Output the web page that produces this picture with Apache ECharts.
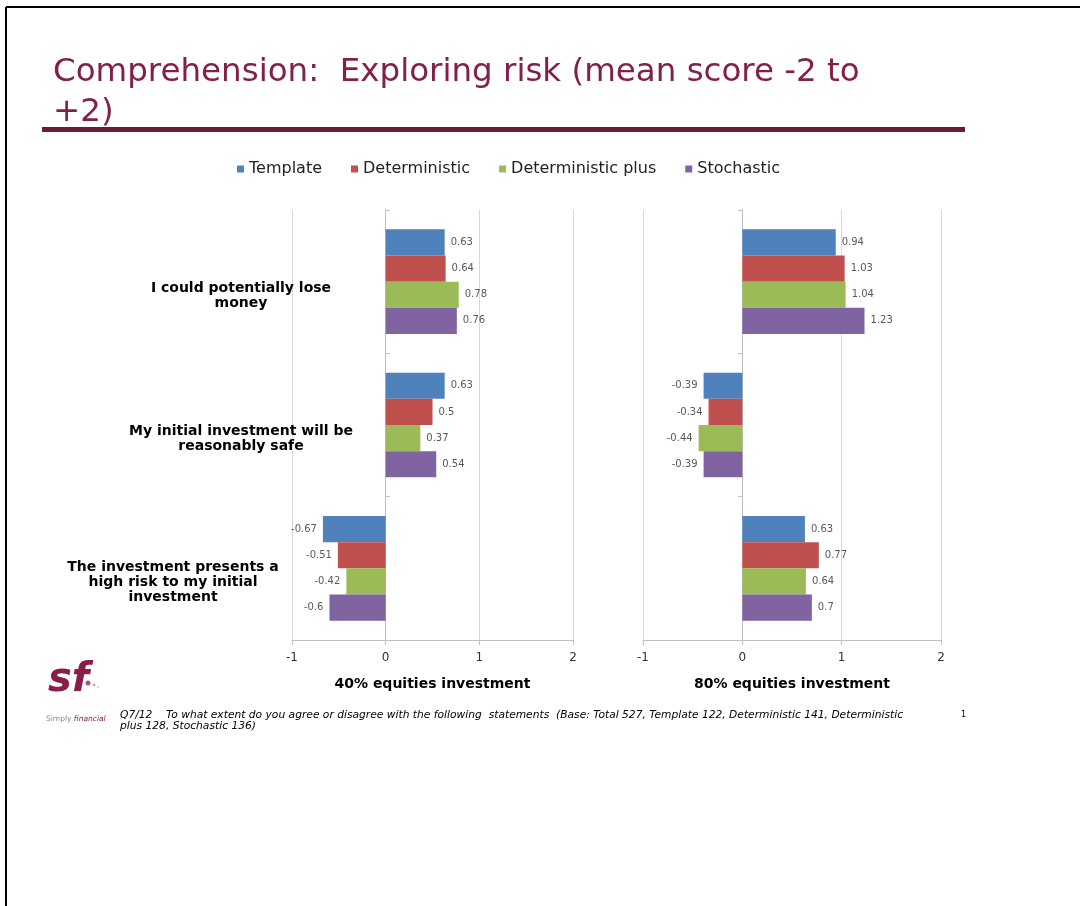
<!DOCTYPE html>
<html>
<head>
<meta charset="utf-8">
<script src="https://cdn.jsdelivr.net/npm/echarts@6/dist/echarts.min.js"></script>
<style>
html,body{margin:0;padding:0;background:#fff;}
#chart{width:1080px;height:906px;}
</style>
</head>
<body>
<div id="chart"></div>
<script>
// ---- data ----
const categories = [
  'I could potentially lose\nmoney',
  'My initial investment will be\nreasonably safe',
  'The investment presents a\nhigh risk to my initial\ninvestment'
];
const seriesNames = ['Template', 'Deterministic', 'Deterministic plus', 'Stochastic'];
// 40% equities investment
const template40 = [0.63, 0.63, -0.67];
const deterministic40 = [0.64, 0.5, -0.51];
const deterministicPlus40 = [0.78, 0.37, -0.42];
const stochastic40 = [0.76, 0.54, -0.6];
// 80% equities investment
const template80 = [0.94, -0.39, 0.63];
const deterministic80 = [1.03, -0.34, 0.77];
const deterministicPlus80 = [1.04, -0.44, 0.64];
const stochastic80 = [1.23, -0.39, 0.7];
const panelNames = ['40% equities investment', '80% equities investment'];
const axisMin = -1, axisMax = 2, axisStep = 1;
const titleLines = ['Comprehension:  Exploring risk (mean score -2 to', '+2)'];
const footnoteLines = [
  'Q7/12    To what extent do you agree or disagree with the following  statements  (Base: Total 527, Template 122, Deterministic 141, Deterministic',
  'plus 128, Stochastic 136)'
];

const colors = ['#4F81BD', '#C0504D', '#9BBB59', '#8064A2'];
const FONT = 'DejaVu Sans';

const chart = echarts.init(document.getElementById('chart'), null, {renderer: 'canvas'});

function items(arr) {
  return arr.map(v => ({value: v, label: {position: v < 0 ? 'left' : 'right'}}));
}

const panels = [
  [template40, deterministic40, deterministicPlus40, stochastic40],
  [template80, deterministic80, deterministicPlus80, stochastic80]
];

const series = [];
panels.forEach((p, pi) => {
  p.forEach((arr, si) => {
    series.push({
      type: 'bar',
      name: seriesNames[si],
      xAxisIndex: pi,
      yAxisIndex: pi === 0 ? 0 : 2,
      data: items(arr),
      barGap: '0%',
      barCategoryGap: '27%',
      itemStyle: {color: colors[si]},
      label: {
        show: true,
        distance: 6,
        color: '#595959',
        fontSize: 10,
        fontFamily: FONT
      },
      emphasis: {disabled: true}
    });
  });
});

function xAxisCfg(gi, name) {
  return {
    type: 'value', gridIndex: gi, min: axisMin, max: axisMax, interval: axisStep,
    name: name, nameLocation: 'middle', nameGap: 37,
    nameTextStyle: {fontFamily: FONT, fontWeight: 'bold', fontSize: 14, color: '#000'},
    axisLine: {show: true, onZero: false, lineStyle: {color: '#bfbfbf', width: 1}},
    axisTick: {show: true, length: 5, lineStyle: {color: '#bfbfbf'}},
    axisLabel: {fontFamily: FONT, fontSize: 12, color: '#333', margin: 12},
    splitLine: {show: true, lineStyle: {color: '#d9d9d9', width: 1}}
  };
}

const option = {
  animation: false,
  backgroundColor: '#fff',
  legend: {
    data: seriesNames,
    left: 232, top: 156,
    icon: 'rect', itemWidth: 7, itemHeight: 7, itemGap: 29,
    textStyle: {fontFamily: FONT, fontSize: 16, color: '#222'},
    selectedMode: false
  },
  grid: [
    {left: 292, right: 1080 - 573, top: 210, bottom: 906 - 640, containLabel: false},
    {left: 643, right: 1080 - 941, top: 210, bottom: 906 - 640, containLabel: false}
  ],
  xAxis: [xAxisCfg(0, panelNames[0]), xAxisCfg(1, panelNames[1])],
  yAxis: [
    {
      type: 'category', gridIndex: 0, data: categories, inverse: true, position: 'left',
      axisLine: {show: false, onZero: false}, axisTick: {show: false}, splitLine: {show: false},
      axisLabel: {
        interval: 0, margin: 51, align: 'center', padding: [28, 0, 0, 0],
        formatter: function (val, idx) {
          const key = idx === 2 ? 'b' : 'a';
          return val.split('\n').map(l => '{' + key + '|' + l + '}').join('\n');
        },
        rich: {
          a: {fontFamily: FONT, fontWeight: 'bold', fontSize: 14, lineHeight: 15, color: '#000', align: 'center'},
          b: {fontFamily: FONT, fontWeight: 'bold', fontSize: 14, lineHeight: 15, color: '#000', align: 'center', padding: [0, 136, 0, 0]}
        }
      }
    },
    {
      type: 'category', gridIndex: 0, data: categories, inverse: true,
      axisLine: {show: true, onZero: true, lineStyle: {color: '#bfbfbf'}},
      axisTick: {show: true, length: 4, lineStyle: {color: '#bfbfbf'}},
      axisLabel: {show: false}, splitLine: {show: false}
    },
    {
      type: 'category', gridIndex: 1, data: categories, inverse: true,
      axisLine: {show: true, onZero: true, lineStyle: {color: '#bfbfbf'}},
      axisTick: {show: true, length: 4, lineStyle: {color: '#bfbfbf'}},
      axisLabel: {show: false}, splitLine: {show: false}
    }
  ],
  series: series,
  graphic: [
    // slide frame
    {type: 'line', shape: {x1: 6, y1: 7, x2: 1080, y2: 7}, style: {stroke: '#000', lineWidth: 2}, silent: true},
    {type: 'line', shape: {x1: 6, y1: 7, x2: 6, y2: 906}, style: {stroke: '#000', lineWidth: 2}, silent: true},
    // title
    {type: 'text', left: 53, top: 53, style: {text: titleLines.join('\n'), font: '32.5px "DejaVu Sans"', fill: '#82204A', lineHeight: 40}, silent: true},
    {type: 'rect', shape: {x: 42, y: 127, width: 923, height: 5}, style: {fill: '#6A1B36'}, silent: true},
    // logo
    {type: 'text', left: 48, top: 661, style: {text: 'sf', font: 'italic bold 40px "DejaVu Sans"', fill: '#8B1D4A'}, silent: true},
    {type: 'circle', shape: {cx: 88, cy: 683, r: 2.5}, style: {fill: '#A35A7A'}, silent: true},
    {type: 'circle', shape: {cx: 94, cy: 685, r: 1.5}, style: {fill: '#C9A5B5'}, silent: true},
    {type: 'circle', shape: {cx: 98, cy: 687, r: 1}, style: {fill: '#D9C5CF'}, silent: true},
    {type: 'text', left: 46, top: 715, style: {text: 'Simply {f|financial}', font: '7.5px "DejaVu Sans"', fill: '#888', rich: {f: {font: 'italic 7.5px "DejaVu Sans"', fill: '#8B1D4A'}}}, silent: true},
    // footnote
    {type: 'text', left: 120, top: 710, style: {text: footnoteLines[0], font: 'italic 10.7px "DejaVu Sans"', fill: '#000'}, silent: true},
    {type: 'text', left: 120, top: 721, style: {text: footnoteLines[1], font: 'italic 10.7px "DejaVu Sans"', fill: '#000'}, silent: true},
    {type: 'text', left: 961, top: 711, style: {text: '1', font: '8px "DejaVu Sans"', fill: '#000'}, silent: true}
  ]
};
chart.setOption(option);
</script>
</body>
</html>
